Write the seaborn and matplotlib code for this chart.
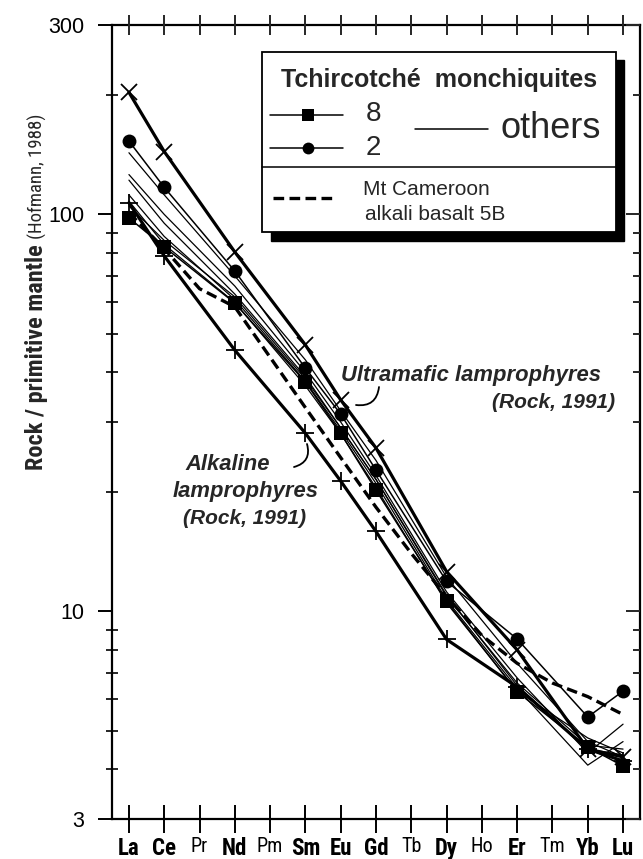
import numpy as np
import pandas as pd
import matplotlib
matplotlib.use("Agg")
import matplotlib.pyplot as plt
from matplotlib import font_manager as fm
from matplotlib.patches import Rectangle
from matplotlib.lines import Line2D
import seaborn as sns

# ---------------- data ----------------
elements = ['La', 'Ce', 'Pr', 'Nd', 'Pm', 'Sm', 'Eu', 'Gd', 'Tb', 'Dy', 'Ho', 'Er', 'Tm', 'Yb', 'Lu']
bold_elements = ['La', 'Ce', 'Nd', 'Sm', 'Eu', 'Gd', 'Dy', 'Er', 'Yb', 'Lu']
measured = ['La', 'Ce', 'Nd', 'Sm', 'Eu', 'Gd', 'Dy', 'Er', 'Yb', 'Lu']

sample8 = [98.0, 82.8, 59.8, 37.8, 28.1, 20.2, 10.6, 6.27, 4.55, 4.08]
sample2 = [153, 117, 72.0, 41.0, 31.4, 22.7, 11.9, 8.52, 5.42, 6.30]
ultramafic = [203, 144, 80.4, 46.9, 34.1, 25.8, 12.6, 8.0, 4.5, 4.3]
alkaline = [107, 78.6, 45.5, 28.1, 21.3, 15.9, 8.5, 6.45, 4.5, 4.2]

others = [
    [143, 112, 70, 43, 32, 24, 12.2, 7.4, 4.7, 4.3],
    [126, 100, 66, 40, 30, 22, 11.2, 6.8, 4.4, 5.2],
    [122, 95, 63, 39, 29, 21.5, 10.9, 6.6, 4.6, 4.5],
    [112, 88, 61, 38, 28.5, 21, 10.7, 6.4, 4.1, 4.7],
    [108, 84, 60, 37, 28, 20.5, 10.5, 6.3, 4.8, 4.4],
    [105, 86, 62, 38.5, 29, 21.5, 11.0, 6.5, 4.5, 4.35],
]

cameroon_elements = ['La', 'Ce', 'Pr', 'Nd', 'Sm', 'Eu', 'Gd', 'Tb', 'Dy', 'Ho', 'Er', 'Tm', 'Yb', 'Lu']
cameroon = [101, 82, 65, 58.5, 32.6, 24.4, 18.3, 14.0, 10.9, 8.7, 7.4, 6.6, 6.1, 5.5]

y_major = [3, 10, 100, 300]
y_major_labels = ['3', '10', '100', '300']

# ---------------- style ----------------
sns.set_theme(style="ticks")


def has_font(name):
    try:
        fm.findfont(fm.FontProperties(family=name), fallback_to_default=False)
        return True
    except Exception:
        return False


REG = 'Liberation Sans' if has_font('Liberation Sans') else 'DejaVu Sans'

# look for a condensed / narrow face among installed fonts
NARROW, NARROW_STRETCH = REG, 'normal'
_cands = []
for f in fm.fontManager.ttflist:
    nm = f.name
    st = str(f.stretch)
    low = (nm + ' ' + f.fname).lower()
    if 'narrow' in low or 'condensed' in low or st in ('condensed', 'semi-condensed', 'extra-condensed'):
        _cands.append((nm, st, f.fname))
_pref = ['Liberation Sans Narrow', 'Roboto Condensed', 'Open Sans Condensed', 'DejaVu Sans']
for p in _pref:
    hit = [c for c in _cands if c[0] == p]
    if hit:
        NARROW = p
        st = hit[0][1]
        NARROW_STRETCH = st if st in ('condensed', 'semi-condensed', 'extra-condensed') else 'normal'
        if p == 'DejaVu Sans':
            NARROW_STRETCH = 'condensed'
        break
narrow_ok = NARROW != REG

plt.rcParams['font.family'] = [REG, 'DejaVu Sans']

W_PX, H_PX = 643, 859
fig = plt.figure(figsize=(W_PX / 100, H_PX / 100), dpi=100)
fig.patch.set_facecolor('white')

L, R, T, B = 112, 640, 25, 819
ax = fig.add_axes([L / W_PX, 1 - B / H_PX, (R - L) / W_PX, (B - T) / H_PX])
ax.set_facecolor('white')


def frame(vals, elems):
    return pd.DataFrame({'x': [elements.index(e) for e in elems], 'y': vals})


# others (thin)
for o in others:
    sns.lineplot(data=frame(o, measured), x='x', y='y', ax=ax, color='black',
                 lw=0.9, sort=False, estimator=None, zorder=2)

# Mt Cameroon dashed
sns.lineplot(data=frame(cameroon, cameroon_elements), x='x', y='y', ax=ax, color='black',
             lw=2.4, sort=False, estimator=None, zorder=3, dashes=False,
             linestyle=(0, (3.2, 1.6)))

# envelopes
sns.lineplot(data=frame(ultramafic, measured), x='x', y='y', ax=ax, color='black',
             lw=2.3, marker='x', markersize=12, markeredgewidth=1.3, markeredgecolor='black',
             sort=False, estimator=None, zorder=3)
sns.lineplot(data=frame(alkaline, measured), x='x', y='y', ax=ax, color='black',
             lw=2.3, marker='+', markersize=13, markeredgewidth=1.3, markeredgecolor='black',
             sort=False, estimator=None, zorder=3)

# samples
sns.lineplot(data=frame(sample8, measured), x='x', y='y', ax=ax, color='black',
             lw=1.1, marker='s', markersize=9.5, markeredgewidth=0,
             sort=False, estimator=None, zorder=4)
sns.lineplot(data=frame(sample2, measured), x='x', y='y', ax=ax, color='black',
             lw=1.1, marker='o', markersize=10, markeredgewidth=0,
             sort=False, estimator=None, zorder=4)

# ---------------- axes ----------------
ax.set_yscale('log')
ax.set_ylim(3, 300)
ax.set_xlim(-0.48, 14.48)
ax.set_xlabel('')
ax.set_ylabel('')

ax.set_yticks(y_major)
ax.set_yticklabels(y_major_labels)
ax.yaxis.set_minor_locator(matplotlib.ticker.LogLocator(base=10, subs=np.arange(2, 10)))
ax.yaxis.set_minor_formatter(matplotlib.ticker.NullFormatter())

ax.set_xticks(range(len(elements)))
ax.set_xticklabels(elements)

for sp in ax.spines.values():
    sp.set_linewidth(1.6)
    sp.set_color('black')
    sp.set_visible(True)

ax.tick_params(axis='y', which='major', direction='out', length=10, width=1.4,
               pad=10, labelsize=15.5, left=True, right=False, colors='black')
ax.tick_params(axis='y', which='minor', direction='inout', length=9, width=1.4,
               left=True, right=False)
ax.tick_params(axis='x', which='major', direction='inout', length=20, width=1.4,
               pad=3, bottom=True, top=False, colors='black')
for lab in ax.get_yticklabels():
    lab.set_fontfamily(REG)
for lab, el in zip(ax.get_xticklabels(), elements):
    lab.set_fontfamily([NARROW, 'DejaVu Sans'])
    lab.set_fontstretch(NARROW_STRETCH)
    if el in bold_elements:
        lab.set_fontweight('bold')
        lab.set_fontsize(16.5 if narrow_ok else 14)
    else:
        lab.set_fontsize(14.5 if narrow_ok else 12.5)

# right ticks (inward) and top ticks (crossing)
axr = ax.twinx()
axr.set_yscale('log')
axr.set_ylim(ax.get_ylim())
axr.set_yticks(y_major)
axr.yaxis.set_minor_locator(matplotlib.ticker.LogLocator(base=10, subs=np.arange(2, 10)))
axr.yaxis.set_minor_formatter(matplotlib.ticker.NullFormatter())
axr.tick_params(axis='y', which='major', direction='in', length=10, width=1.4, labelright=False)
axr.tick_params(axis='y', which='minor', direction='in', length=5, width=1.4, labelright=False)
axr.grid(False)
for sp in axr.spines.values():
    sp.set_visible(False)

axt = ax.twiny()
axt.set_xlim(ax.get_xlim())
axt.set_xticks(range(len(elements)))
axt.tick_params(axis='x', which='major', direction='inout', length=15, width=1.4, labeltop=False)
axt.grid(False)
for sp in axt.spines.values():
    sp.set_visible(False)
ax.grid(False)


# ---------------- helpers in pixel space ----------------
def fx(px):
    return px / W_PX


def fy(py):
    return 1 - py / H_PX


# y-axis label (two parts)
fig.text(fx(43), fy(357), 'Rock / primitive mantle', rotation=90, rotation_mode='anchor',
         ha='center', va='baseline', fontweight='bold', fontstretch=NARROW_STRETCH,
         fontsize=17.5 if narrow_ok else 15, family=[NARROW, 'DejaVu Sans'])
fig.text(fx(43), fy(176), '(Hofmann, 1988)', rotation=90, rotation_mode='anchor',
         ha='center', va='baseline', fontstretch=NARROW_STRETCH,
         fontsize=13.5 if narrow_ok else 11.5, family=[NARROW, 'DejaVu Sans'])

# ---------------- legend box ----------------
fig.add_artist(Rectangle((fx(271), fy(241)), fx(624) - fx(271), fy(60) - fy(241),
                         transform=fig.transFigure, facecolor='black', edgecolor='black', zorder=5))
fig.add_artist(Rectangle((fx(262), fy(232)), fx(616) - fx(262), fy(52) - fy(232),
                         transform=fig.transFigure, facecolor='white', edgecolor='black',
                         lw=1.3, zorder=6))
fig.add_artist(Line2D([fx(262), fx(616)], [fy(167), fy(167)], transform=fig.transFigure,
                      color='black', lw=1.1, zorder=7))

fig.text(fx(439), fy(80), 'Tchircotché  monchiquites', ha='center', va='center',
         fontweight='bold', fontsize=18, zorder=8)
fig.add_artist(Line2D([fx(270), fx(343)], [fy(115), fy(115)], transform=fig.transFigure,
                      color='black', lw=1.1, zorder=7))
fig.add_artist(Line2D([fx(308)], [fy(115)], transform=fig.transFigure, color='black',
                      marker='s', markersize=8, markeredgewidth=0, lw=0, zorder=8))
fig.add_artist(Line2D([fx(270), fx(343)], [fy(148), fy(148)], transform=fig.transFigure,
                      color='black', lw=1.1, zorder=7))
fig.add_artist(Line2D([fx(308)], [fy(148)], transform=fig.transFigure, color='black',
                      marker='o', markersize=8.5, markeredgewidth=0, lw=0, zorder=8))
fig.text(fx(366), fy(114), '8', ha='left', va='center', fontsize=20, zorder=8)
fig.text(fx(366), fy(148), '2', ha='left', va='center', fontsize=20, zorder=8)
fig.add_artist(Line2D([fx(415), fx(488)], [fy(129), fy(129)], transform=fig.transFigure,
                      color='black', lw=1.1, zorder=7))
fig.text(fx(501), fy(128), 'others', ha='left', va='center', fontsize=26, zorder=8)

fig.add_artist(Line2D([fx(273), fx(337)], [fy(198), fy(198)], transform=fig.transFigure,
                      color='black', lw=2.4, linestyle=(0, (3.2, 1.6)), zorder=7))
fig.text(fx(363), fy(189), 'Mt Cameroon', ha='left', va='center', fontsize=15, zorder=8)
fig.text(fx(365), fy(215), 'alkali basalt 5B', ha='left', va='center', fontsize=15, zorder=8)

# ---------------- annotations ----------------
fig.text(fx(471), fy(375), 'Ultramafic lamprophyres', ha='center', va='center',
         fontweight='bold', fontstyle='italic', fontsize=15.8)
fig.text(fx(615), fy(403), '(Rock, 1991)', ha='right', va='center',
         fontweight='bold', fontstyle='italic', fontsize=15)
fig.text(fx(185), fy(465), 'Alkaline', ha='left', va='center',
         fontweight='bold', fontstyle='italic', fontsize=15.8)
fig.text(fx(173), fy(492), 'lamprophyres', ha='left', va='center',
         fontweight='bold', fontstyle='italic', fontsize=15.8)
fig.text(fx(183), fy(518), '(Rock, 1991)', ha='left', va='center',
         fontweight='bold', fontstyle='italic', fontsize=15)

ax.annotate('', xy=(356, H_PX - 405), xytext=(379, H_PX - 387), xycoords='figure pixels',
            textcoords='figure pixels',
            arrowprops=dict(arrowstyle='-', connectionstyle='arc3,rad=-0.5', lw=1.3,
                            color='black', shrinkA=0, shrinkB=0))
ax.annotate('', xy=(294, H_PX - 467), xytext=(307, H_PX - 444), xycoords='figure pixels',
            textcoords='figure pixels',
            arrowprops=dict(arrowstyle='-', connectionstyle='arc3,rad=-0.5', lw=1.3,
                            color='black', shrinkA=0, shrinkB=0))

fig.savefig('out.png', dpi=100, facecolor='white')
